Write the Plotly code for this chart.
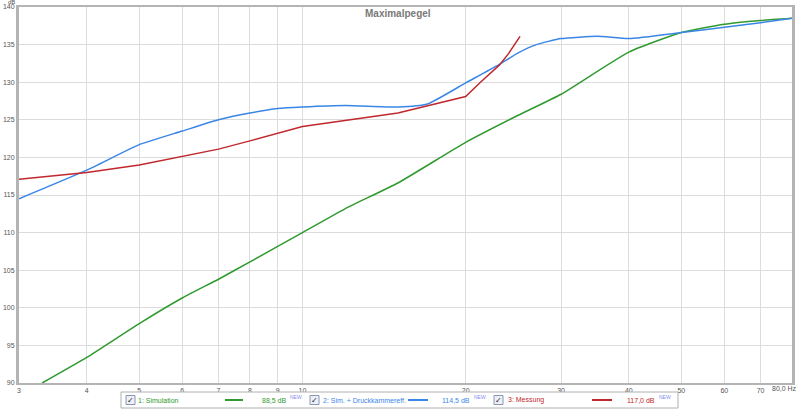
import math
import plotly.graph_objects as go

# ---------------- data ----------------
sim_f = [3.31, 4, 5, 6, 7, 8, 10, 12, 15, 20, 25, 30, 40, 50, 60, 70, 80]
sim_db = [90.0, 93.4, 97.9, 101.3, 103.8, 106.1, 110.0, 113.2, 116.6, 122.0, 125.6, 128.4, 134.0, 136.6, 137.7, 138.2, 138.5]

druck_f = [3, 4, 5, 6, 7, 8, 9, 10, 12, 15, 17, 20, 23, 25, 27, 30, 35, 40, 50, 60, 70, 80]
druck_db = [114.5, 118.3, 121.7, 123.5, 125.0, 125.9, 126.5, 126.7, 126.9, 126.7, 127.1, 129.9, 132.3, 133.9, 135.0, 135.8, 136.1, 135.8, 136.6, 137.3, 137.9, 138.5]

mess_f = [3, 4, 5, 6, 7, 8, 10, 15, 20, 21.3, 23.1, 24.0, 25.2]
mess_db = [117.1, 118.0, 119.0, 120.1, 121.1, 122.2, 124.1, 125.9, 128.1, 130.0, 132.3, 133.8, 136.1]

x_ticks = [3, 4, 5, 6, 7, 8, 9, 10, 20, 30, 40, 50, 60, 70, 80]
x_tick_labels = ["3", "4", "5", "6", "7", "8", "9", "10", "20", "30", "40", "50", "60", "70", ""]
x_last_label = "80,0 Hz"
y_ticks = [90, 95, 100, 105, 110, 115, 120, 125, 130, 135, 140]

series_names = ["1: Simulation", "2: Sim. + Druckkammereff.", "3: Messung"]
series_levels = ["88,5 dB", "114,5 dB", "117,0 dB"]
colors = ["#2f9a2f", "#3a86e6", "#c0282d"]

# ---------------- layout helpers ----------------
W, H = 800, 410
X0, X1, Y0, Y1 = 19, 792, 7, 383   # plot area in pixels


def px(x):
    return x / W


def py(y):
    return (H - y) / H


fig = go.Figure()
fig.add_trace(go.Scatter(x=sim_f, y=sim_db, mode="lines", line=dict(color=colors[0], width=1.5, shape="spline", smoothing=0.5), showlegend=False))
fig.add_trace(go.Scatter(x=druck_f, y=druck_db, mode="lines", line=dict(color=colors[1], width=1.5, shape="spline", smoothing=0.5), showlegend=False))
fig.add_trace(go.Scatter(x=mess_f, y=mess_db, mode="lines", line=dict(color=colors[2], width=1.5), showlegend=False))

fig.update_layout(
    template="none",
    width=W, height=H,
    margin=dict(l=0, r=0, t=0, b=0, pad=0),
    paper_bgcolor="white", plot_bgcolor="white",
    font=dict(family="Liberation Sans, Arial", size=7, color="#555"),
    xaxis=dict(type="log", range=[math.log10(3), math.log10(80)], tickvals=x_ticks, ticktext=x_tick_labels,
               domain=[px(X0), px(X1)],
               showgrid=True, gridcolor="#dcdcdc", gridwidth=1, showline=True, linecolor="#b4b4b4", linewidth=2,
               mirror=True, ticks="", ticklen=0, tickfont=dict(size=7, color="#555"), zeroline=False, automargin=False),
    yaxis=dict(range=[90, 140], tickvals=y_ticks, domain=[py(Y1), py(Y0)],
               showgrid=True, gridcolor="#dcdcdc", gridwidth=1,
               showline=True, linecolor="#b4b4b4", linewidth=3, mirror=True, ticks="", ticklen=0,
               tickfont=dict(size=7, color="#555"), zeroline=False, automargin=False),
)

ann = []
ann.append(dict(text="<b>Maximalpegel</b>", x=px(398), y=py(13), xref="paper", yref="paper", showarrow=False,
                font=dict(size=10, color="#7a7a7a"), xanchor="center", yanchor="middle"))
ann.append(dict(text="dB", x=px(11), y=py(2), xref="paper", yref="paper", showarrow=False,
                font=dict(size=6, color="#555"), xanchor="center", yanchor="middle"))
ann.append(dict(text=x_last_label, x=px(799), y=py(388), xref="paper", yref="paper", showarrow=False,
                font=dict(size=7, color="#555"), xanchor="right", yanchor="middle"))

shapes = []
# legend box
shapes.append(dict(type="rect", xref="paper", yref="paper", x0=px(121), x1=px(678), y0=py(392), y1=py(408),
                   line=dict(color="#b0b0b0", width=1), fillcolor="white", layer="above"))

cb_x = [126, 310, 494]
name_x = [136, 321, 506]
line_x = [(225, 243), (408, 428), (592, 612)]
lvl_x = [288, 472, 657]
yc = 400
for i in range(3):
    shapes.append(dict(type="rect", xref="paper", yref="paper", x0=px(cb_x[i]), x1=px(cb_x[i] + 9),
                       y0=py(yc - 4.5), y1=py(yc + 4.5), line=dict(color="#8a96b4", width=1), fillcolor="#eef0f8"))
    ann.append(dict(text="✓", x=px(cb_x[i] + 4.5), y=py(yc), xref="paper", yref="paper", showarrow=False,
                    font=dict(size=8, color="#223"), xanchor="center", yanchor="middle"))
    ann.append(dict(text=series_names[i], x=px(name_x[i]), y=py(yc), xref="paper", yref="paper", showarrow=False,
                    font=dict(size=7, color=colors[i]), xanchor="left", yanchor="middle"))
    shapes.append(dict(type="line", xref="paper", yref="paper", x0=px(line_x[i][0]), x1=px(line_x[i][1]),
                       y0=py(yc), y1=py(yc), line=dict(color=colors[i], width=2)))
    ann.append(dict(text=series_levels[i], x=px(lvl_x[i]), y=py(yc), xref="paper", yref="paper", showarrow=False,
                    font=dict(size=7, color=colors[i]), xanchor="right", yanchor="middle"))
    ann.append(dict(text="NEW", x=px(lvl_x[i]), y=py(yc - 3), xref="paper", yref="paper", showarrow=False,
                    font=dict(size=5, color="#8a8af0"), xanchor="left", yanchor="middle"))

fig.update_layout(annotations=ann, shapes=shapes)
fig.write_html("out.html", config={"displayModeBar": False},
               post_script="document.body.style.margin='0';document.body.style.padding='0';")
